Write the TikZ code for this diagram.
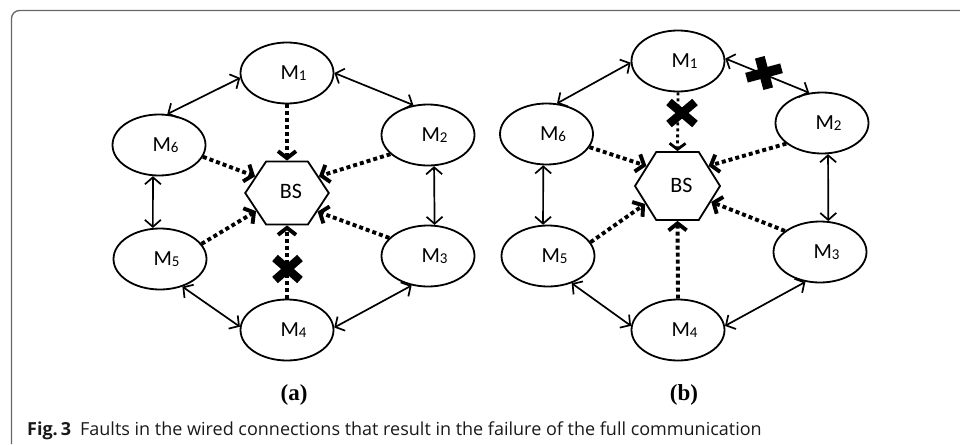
\documentclass[tikz,border=0pt]{standalone}
\usepackage{fontspec}
\setmainfont{Carlito}
\newfontfamily\capfont{Open Sans}
\newfontfamily\lblfont{Liberation Serif}
\usetikzlibrary{shapes.geometric,arrows.meta}
\newcommand{\Msub}[1]{M\raisebox{-1.2pt}{\fontsize{15}{15}\selectfont #1}}
\tikzset{
  mnode/.style={ellipse, draw, line width=1.8pt, minimum width=93pt, minimum height=61pt, inner sep=0pt, font=\fontsize{21.5}{21.5}\selectfont},
  bsnode/.style={regular polygon, regular polygon sides=6, draw, line width=1.8pt, inner sep=0pt},
  bstext/.style={font=\fontsize{22}{22}\selectfont, inner sep=0pt},
  link/.style={line width=1.7pt, {Straight Barb[length=7pt,width=16pt]}-{Straight Barb[length=7pt,width=16pt]}},
  feed/.style={line width=3.9pt, dash pattern=on 4pt off 3pt, -{Straight Barb[length=7pt,width=18pt]}},
  feedthin/.style={line width=2.8pt, dash pattern=on 3pt off 3pt, -{Straight Barb[length=6pt,width=16pt]}},
  cross/.style={line width=8.5pt},
  plus/.style={line width=10pt},
  sublabel/.style={font=\lblfont\bfseries\fontsize{23}{23}\selectfont, inner sep=0pt},
  frame/.style={draw=black!60, line width=1.3pt, rounded corners=8pt}
}
\begin{document}
\begin{tikzpicture}[x=1pt,y=-1pt]
\useasboundingbox (0,0) rectangle (960,444);
\draw[frame] (11.5,444) -- (11.5,10.5) -- (960,10.5);

% ---------- panel (a)
\node[mnode] (m1a) at (287,73)  {\hspace*{13pt}\Msub{1}};
\node[mnode] (m6a) at (159,145) {\hspace*{13pt}\Msub{6}};
\node[mnode] (m2a) at (428,135) {\hspace*{13pt}\Msub{2}};
\node[mnode] (m5a) at (160,259) {\hspace*{13pt}\Msub{5}};
\node[mnode] (m3a) at (428,256) {\hspace*{13pt}\Msub{3}};
\node[mnode] (m4a) at (287,330) {\hspace*{13pt}\Msub{4}};
\node[bsnode, minimum size=72.7pt, xscale=1.15] (bsa) at (287,193) {};
\node[bstext] (bsat) at (291,191.5) {BS};

\draw[link] (m1a.186) -- (m6a.75);
\draw[link] (m1a.0) -- (m2a.116);
\draw[link] (m6a.259) -- (m5a.103);
\draw[link] (m2a.281) -- (m3a.78);
\draw[link] (m5a.309) -- (m4a.176);
\draw[link] (m3a.241) -- (m4a.3);

\draw[feed] (m1a.south) -- (bsa.north);
\draw[feed] (m6a.345) -- (bsa.149);
\draw[feed] (m2a.207) -- (bsa.31);
\draw[feed] (m5a.20) -- (bsa.214);
\draw[feed] (m3a.155) -- (bsa.325);
\draw[feed] (m4a.north) -- (bsa.south);

\draw[cross] (275,258) -- (300,280) (275,280) -- (300,258);

\node[sublabel] (la) at (294,395) {(a)};

% ---------- panel (b)
\node[mnode] (m1b) at (678,61)  {\hspace*{13pt}\Msub{1}};
\node[mnode] (m6b) at (546.5,134) {\hspace*{13pt}\Msub{6}};
\node[mnode] (m2b) at (822,123) {\hspace*{13pt}\Msub{2}};
\node[mnode] (m5b) at (548,256) {\hspace*{13pt}\Msub{5}};
\node[mnode] (m3b) at (820,252) {\hspace*{13pt}\Msub{3}};
\node[mnode] (m4b) at (678,330) {\hspace*{13pt}\Msub{4}};
\node[bsnode, minimum size=78.5pt, xscale=1.083] (bsb) at (677.5,186) {};
\node[bstext] (bsbt) at (681.5,185) {BS};

\draw[link] (m1b.182) -- (m6b.71);
\draw[link] (m1b.3) -- (m2b.113);
\draw[link] (m6b.264) -- (m5b.99);
\draw[link] (m2b.281) -- (m3b.75);
\draw[link] (m5b.311) -- (m4b.175);
\draw[link] (m3b.244) -- (m4b.5);

\draw[feedthin] (m1b.south) -- (bsb.north);
\draw[feed] (m6b.343) -- (bsb.145);
\draw[feed] (m2b.210) -- (bsb.35);
\draw[feed] (m5b.18) -- (bsb.211);
\draw[feed] (m3b.149) -- (bsb.333);
\draw[feed] (m4b.north) -- (bsb.south);

\draw[cross] (669,102) -- (695,124) (669,124) -- (695,102);
\draw[plus] (746.5,77.7) -- (781.5,68.3) (759.8,57.3) -- (768.2,88.7);

\node[sublabel] (lb) at (684,395) {(b)};

% ---------- caption
\node[anchor=base west, inner sep=0pt, text=black!90, font=\capfont\fontsize{18}{20}\selectfont] (cap) at (27,435)
  {\textbf{Fig.\,3}\hspace{9pt}Faults in the wired connections that result in the failure of the full communication};
\end{tikzpicture}
\end{document}
